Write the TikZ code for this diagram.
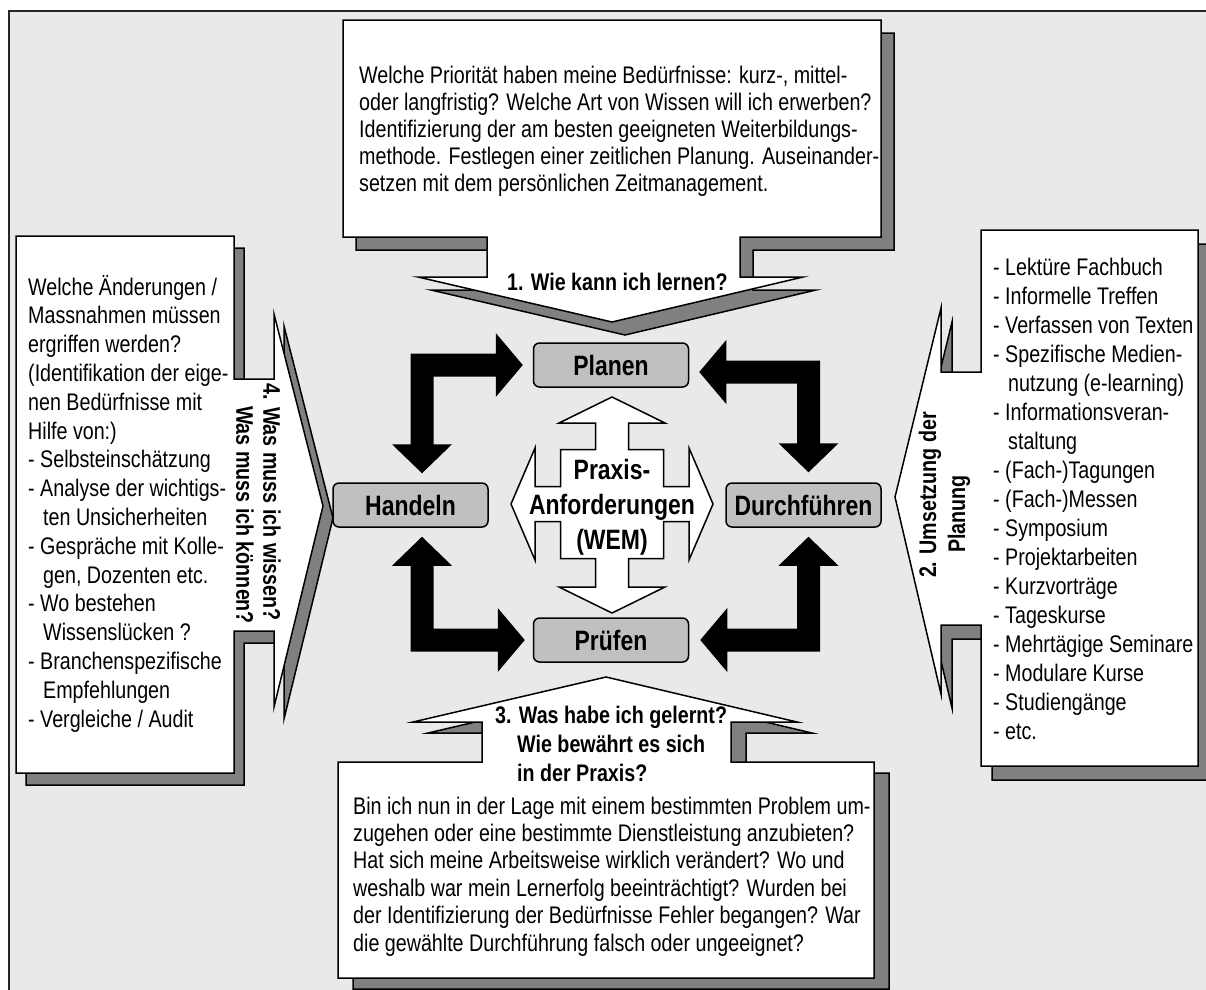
\documentclass[tikz,border=0pt]{standalone}
\usepackage{fontspec}
\setmainfont{Liberation Sans}[FakeStretch=0.82]
\usetikzlibrary{calc}
\definecolor{bggray}{HTML}{E9E9E9}
\definecolor{boxgray}{HTML}{C0C0C0}
\definecolor{dropgray}{HTML}{808080}

% thick black double arrow bent through a right angle
% #1 tip of the horizontal head, #2 its direction (1 right, -1 left)
% #3 tip of the vertical head,   #4 its direction (1 down, -1 up)
\newcommand\bentarrow[4]{%
  \fill[black]
    ($(#3|-#1)+({-1*(#2)*11.5},{-1*(#4)*11.5})$) --
    ($(#1)+({-1*(#2)*27},{-1*(#4)*11.5})$) --
    ($(#1)+({-1*(#2)*27},{-1*(#4)*32})$) -- (#1) --
    ($(#1)+({-1*(#2)*27},{(#4)*32})$) --
    ($(#1)+({-1*(#2)*27},{(#4)*11.5})$) --
    ($(#3|-#1)+({(#2)*11.5},{(#4)*11.5})$) --
    ($(#3)+({(#2)*11.5},{-1*(#4)*29})$) --
    ($(#3)+({(#2)*30},{-1*(#4)*29})$) -- (#3) --
    ($(#3)+({-1*(#2)*30},{-1*(#4)*29})$) --
    ($(#3)+({-1*(#2)*11.5},{-1*(#4)*29})$) -- cycle;}

% callout outlines (box with arrow pointing to the centre)
\def\toppath{(343,20) -- (881,20) -- (881,237) -- (740,237) -- (740,277) -- (803,277) -- (612,322) -- (418,277) -- (487,277) -- (487,237) -- (343,237) -- cycle}
\def\leftpath{(16,236) -- (234,236) -- (234,379) -- (274,379) -- (274,314) -- (323,506) -- (274,707) -- (274,631) -- (234,631) -- (234,773) -- (16,773) -- cycle}
\def\rightpath{(981,230) -- (1198,230) -- (1198,766) -- (981,766) -- (981,625) -- (941,625) -- (941,694) -- (895,497) -- (941,308) -- (941,372) -- (981,372) -- cycle}
\def\bottompath{(338,762) -- (482,762) -- (482,722) -- (413,722) -- (606,677) -- (797,722) -- (731,722) -- (731,762) -- (874,762) -- (874,978) -- (338,978) -- cycle}

\begin{document}
\begin{tikzpicture}[x=1pt,y=-1pt,
  bubble/.style={fill=white,draw=black,line width=1.5pt,line join=miter},
  drop/.style={fill=dropgray,draw=black,line width=1.5pt,line join=miter},
  stage/.style={draw=black,fill=boxgray,line width=1.5pt,rounded corners=6pt,
    minimum width=155pt,minimum height=44pt,inner sep=0pt,
    font=\fontsize{28}{30}\selectfont\bfseries},
  body/.style={anchor=base west,inner sep=0pt,font=\fontsize{24}{27}\selectfont},
  qtext/.style={inner sep=0pt,font=\fontsize{24}{28}\selectfont\bfseries},
  hubarrow/.style={fill=white,draw=black,line width=1.5pt,line join=miter}]

\useasboundingbox (0,0) rectangle (1206,989);
\clip (0,0) rectangle (1206,989);

% frame
\draw[fill=bggray,draw=black!85,line width=2pt] (9,11) rectangle (1240,1020);

% callouts with drop shadows
\draw[drop,shift={(13,13)}] \toppath;
\draw[bubble] \toppath;
\draw[drop,shift={(10,12)}] \leftpath;
\draw[bubble] \leftpath;
\draw[drop,shift={(11,14)}] \rightpath;
\draw[bubble] \rightpath;
\draw[drop,shift={(15,11)}] \bottompath;
\draw[bubble] \bottompath;

% 1. planning
\foreach \linetext [count=\i] in {
  {Welche Priorität haben meine Bedürfnisse: kurz-, mittel-},
  {oder langfristig? Welche Art von Wissen will ich erwerben?},
  {Identifizierung der am besten geeigneten Weiterbildungs-},
  {methode. Festlegen einer zeitlichen Planung. Auseinander-},
  {setzen mit dem persönlichen Zeitmanagement.}}
  \node[body,name=tl\i] at (359,{83+27*(\i-1)}) {\linetext};
\node[qtext,anchor=base west] (q1) at (507,290) {1. Wie kann ich lernen?};

% 4. needs
\foreach \linetext [count=\i] in {
  {Welche Änderungen /},
  {Massnahmen müssen},
  {ergriffen werden?},
  {(Identifikation der eige-},
  {nen Bedürfnisse mit},
  {Hilfe von:)},
  {- Selbsteinschätzung},
  {- Analyse der wichtigs-},
  {\hspace*{15pt}ten Unsicherheiten},
  {- Gespräche mit Kolle-},
  {\hspace*{15pt}gen, Dozenten etc.},
  {- Wo bestehen},
  {\hspace*{15pt}Wissenslücken ?},
  {- Branchenspezifische},
  {\hspace*{15pt}Empfehlungen},
  {- Vergleiche / Audit}}
  \node[body,name=ll\i] at (28,{295+28.8*(\i-1)}) {\linetext};
\node[qtext,rotate=-90] (q4a) at (272,502) {4. Was muss ich wissen?};
\node[qtext,rotate=-90] (q4b) at (245,515) {Was muss ich können?};

% 2. realisation
\foreach \linetext [count=\i] in {
  {- Lektüre Fachbuch},
  {- Informelle Treffen},
  {- Verfassen von Texten},
  {- Spezifische Medien-},
  {\hspace*{15pt}nutzung (e-learning)},
  {- Informationsveran-},
  {\hspace*{15pt}staltung},
  {- (Fach-)Tagungen},
  {- (Fach-)Messen},
  {- Symposium},
  {- Projektarbeiten},
  {- Kurzvorträge},
  {- Tageskurse},
  {- Mehrtägige Seminare},
  {- Modulare Kurse},
  {- Studiengänge},
  {- etc.}}
  \node[body,name=rl\i] at (993,{275+29*(\i-1)}) {\linetext};
\node[qtext,rotate=90] (q2a) at (930,495) {2. Umsetzung der};
\node[qtext,rotate=90] (q2b) at (959,514) {Planung};

% 3. review
\node[qtext,anchor=base west] (q3a) at (495,723) {3. Was habe ich gelernt?};
\node[qtext,anchor=base west] (q3b) at (517,752) {Wie bewährt es sich};
\node[qtext,anchor=base west] (q3c) at (517,781) {in der Praxis?};
\foreach \linetext [count=\i] in {
  {Bin ich nun in der Lage mit einem bestimmten Problem um-},
  {zugehen oder eine bestimmte Dienstleistung anzubieten?},
  {Hat sich meine Arbeitsweise wirklich verändert? Wo und},
  {weshalb war mein Lernerfolg beeinträchtigt? Wurden bei},
  {der Identifizierung der Bedürfnisse Fehler begangen? War},
  {die gewählte Durchführung falsch oder ungeeignet?}}
  \node[body,name=bl\i] at (353,{814+27.4*(\i-1)}) {\linetext};

% cycle stages
\node[stage] (planen)  at (611,365)   {Planen};
\node[stage] (handeln) at (410.5,505) {Handeln};
\node[stage] (durch)   at (803.5,505) {Durchführen};
\node[stage] (pruefen) at (611,640)   {Prüfen};

% bent arrows between the stages
\coordinate (tlA) at ($(planen.west)+(-10,0)$);
\coordinate (tlB) at ($(handeln.north)+(11.5,-9)$);
\bentarrow{tlA}{1}{tlB}{1}
\coordinate (trA) at ($(planen.east)+(10,7)$);
\coordinate (trB) at ($(durch.north)+(5,-10)$);
\bentarrow{trA}{-1}{trB}{1}
\coordinate (blA) at ($(pruefen.west)+(-8,0)$);
\coordinate (blB) at ($(handeln.south)+(11.5,9)$);
\bentarrow{blA}{1}{blB}{-1}
\coordinate (brA) at ($(pruefen.east)+(11,0)$);
\coordinate (brB) at ($(durch.south)+(5,9)$);
\bentarrow{brA}{-1}{brB}{-1}

% four-way arrow in the middle
\coordinate (hub) at (612,504);
\draw[hubarrow] ($(hub)+(0,-107)$) -- ($(hub)+(53,-81)$) -- ($(hub)+(16.5,-81)$)
  -- ($(hub)+(16.5,-54.5)$) -- ($(hub)+(51.5,-54.5)$) -- ($(hub)+(51.5,-17.5)$)
  -- ($(hub)+(77,-17.5)$) -- ($(hub)+(77,-56)$) -- ($(hub)+(101,0)$)
  -- ($(hub)+(77,56)$) -- ($(hub)+(77,17.5)$) -- ($(hub)+(51.5,17.5)$)
  -- ($(hub)+(51.5,54.5)$) -- ($(hub)+(16.5,54.5)$) -- ($(hub)+(16.5,83)$)
  -- ($(hub)+(53,83)$) -- ($(hub)+(0,109)$) -- ($(hub)+(-53,83)$)
  -- ($(hub)+(-16.5,83)$) -- ($(hub)+(-16.5,54.5)$) -- ($(hub)+(-51.5,54.5)$)
  -- ($(hub)+(-51.5,17.5)$) -- ($(hub)+(-77,17.5)$) -- ($(hub)+(-77,56)$)
  -- ($(hub)+(-101,0)$) -- ($(hub)+(-77,-56)$) -- ($(hub)+(-77,-17.5)$)
  -- ($(hub)+(-51.5,-17.5)$) -- ($(hub)+(-51.5,-54.5)$) -- ($(hub)+(-16.5,-54.5)$)
  -- ($(hub)+(-16.5,-81)$) -- ($(hub)+(-53,-81)$) -- cycle;
\node[align=center,inner sep=0pt,font=\fontsize{28}{35}\selectfont\bfseries]
  (praxis) at ($(hub)+(0,3)$) {Praxis-\\Anforderungen\\(WEM)};
\end{tikzpicture}
\end{document}
